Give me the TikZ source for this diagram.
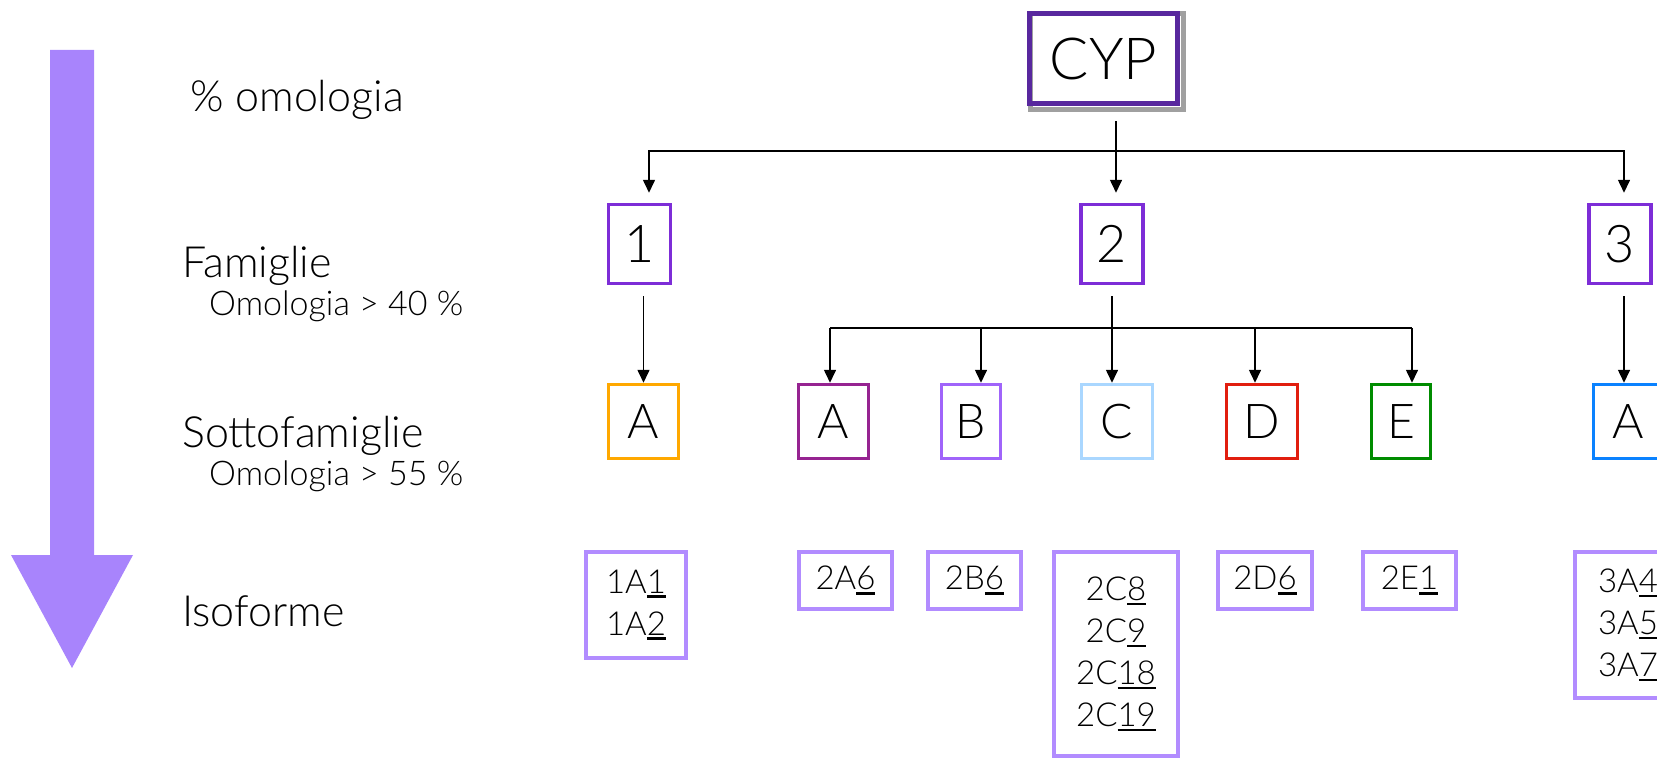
\documentclass[tikz,border=0pt]{standalone}
\usepackage{fontspec}
\setmainfont{Lato Light}
\usetikzlibrary{arrows.meta,calc}

\definecolor{bigarrow}{RGB}{168,132,252}
\definecolor{cypc}{RGB}{88,40,158}
\definecolor{shadowc}{RGB}{160,160,160}
\definecolor{famc}{RGB}{125,45,215}
\definecolor{orangec}{RGB}{255,168,0}
\definecolor{plumc}{RGB}{150,35,145}
\definecolor{violetc}{RGB}{160,100,250}
\definecolor{skyc}{RGB}{170,215,255}
\definecolor{redc}{RGB}{225,30,15}
\definecolor{greenc}{RGB}{0,140,0}
\definecolor{bluec}{RGB}{10,130,255}
\definecolor{isoc}{RGB}{178,140,255}

% underlined isoform number
\newsavebox\digbox
\newcommand\ud[1]{\sbox\digbox{#1}\rlap{\rule[-5pt]{\wd\digbox}{2.8pt}}\usebox\digbox}

\tikzset{
  box/.style={draw, line width=3.5pt, inner sep=0pt, align=center},
  fam/.style={box, draw=famc, minimum width=62pt, minimum height=79pt,
    font=\fontsize{52}{60}\selectfont},
  sub/.style={box, minimum height=74pt, font=\fontsize{48}{56}\selectfont},
  iso/.style={box, draw=isoc, line width=4pt, font=\fontsize{33}{42}\selectfont},
  lab/.style={anchor=base west, inner sep=0pt, font=\fontsize{43}{50}\selectfont},
  small/.style={anchor=base west, inner sep=0pt, font=\fontsize{34}{40}\selectfont},
  conn/.style={line width=1.6pt},
  arr/.style={conn, -{Triangle[length=13pt,width=12pt]}}
}

\begin{document}
\begin{tikzpicture}[x=1pt,y=-1pt]
\useasboundingbox (0,0) rectangle (1657,760);
\clip (0,0) rectangle (1657,760);

% direction of decreasing homology
\fill[bigarrow] (50,50) -- (94,50) -- (94,555) -- (133,555) -- (72,668)
  -- (11,555) -- (50,555) -- cycle;

% level labels
\node[lab] (lhom) at (190,111) {\% omologia};
\node[lab] (lfam) at (182,277) {Famiglie};
\node[small] (lfamh) at (209,315) {Omologia > 40 \%};
\node[lab] (lsub) at (182,447) {Sottofamiglie};
\node[small] (lsubh) at (209,485) {Omologia > 55 \%};
\node[lab] (liso) at (182,626) {Isoforme};

% root
\draw[shadowc, line width=5pt] (1030,14) rectangle (1183,109);
\node[box, draw=cypc, line width=5pt, minimum width=148pt, minimum height=90pt,
  font=\fontsize{58}{66}\selectfont] (cyp) at (1103.5,58.5) {CYP};

% families
\node[fam] (f1) at (639.5,244) {1};
\node[fam] (f2) at (1112,244) {2};
\node[fam] (f3) at (1620,244) {3};

% subfamilies
\node[sub, draw=orangec, minimum width=70pt] (s1a) at (643.5,421.5) {A};
\node[sub, draw=plumc, minimum width=70pt] (s2a) at (833.5,421.5) {A};
\node[sub, draw=violetc, minimum width=59pt] (s2b) at (971,421.5) {B};
\node[sub, draw=skyc, minimum width=71pt] (s2c) at (1117,421.5) {C};
\node[sub, draw=redc, minimum width=71pt] (s2d) at (1262,421.5) {D};
\node[sub, draw=greenc, minimum width=59pt] (s2e) at (1401,421.5) {E};
\node[sub, draw=bluec, minimum width=70pt] (s3a) at (1628.5,421.5) {A};

% isoforms
\node[iso, minimum width=100pt, minimum height=106pt] (i1a) at (636,605)
  {1A\ud{1}\\1A\ud{2}};
\node[iso, minimum width=93pt, minimum height=57pt] (i2a) at (845.5,580.5) {2A\ud{6}};
\node[iso, minimum width=93pt, minimum height=57pt] (i2b) at (974.5,580.5) {2B\ud{6}};
\node[iso, minimum width=124pt, minimum height=204pt] (i2c) at (1116,654)
  {2C\ud{8}\\2C\ud{9}\\2C\ud{18}\\2C\ud{19}};
\node[iso, minimum width=94pt, minimum height=57pt] (i2d) at (1265,580.5) {2D\ud{6}};
\node[iso, minimum width=93pt, minimum height=57pt] (i2e) at (1409.5,580.5) {2E\ud{1}};
\node[iso, minimum width=106pt, minimum height=146pt] (i3a) at (1628,625)
  {3A\ud{4}\\3A\ud{5}\\3A\ud{7}};

% x positions of the drop lines
\coordinate (xa) at (649,0);
\coordinate (xb) at (1116,0);
\coordinate (xc) at (1624,0);
\coordinate (x2a) at (830,0);
\coordinate (x2b) at (981,0);
\coordinate (x2c) at (1112,0);
\coordinate (x2d) at (1255,0);
\coordinate (x2e) at (1412,0);

% CYP -> families
\coordinate (bar1) at (0,151);
\draw[arr, shorten <=15pt, shorten >=10pt] (cyp.south -| xb) -- (f2.north -| xb);
\draw[arr, shorten >=10pt] (bar1 -| xb) -| (f1.north -| xa);
\draw[arr, shorten >=10pt] (bar1 -| xb) -| (f3.north -| xc);

% families -> subfamilies
\coordinate (bar2) at (0,328);
\draw[arr, shorten <=11pt] (f1.south -| s1a) -- (s1a.north);
\draw[arr, shorten <=11pt] (f3.south -| xc) -- (s3a.north -| xc);
\draw[conn, shorten <=11pt] (f2.south -| x2c) -- (bar2 -| x2c);
\draw[conn] (bar2 -| x2a) -- (bar2 -| x2e);
\draw[arr] (bar2 -| x2a) -- (s2a.north -| x2a);
\draw[arr] (bar2 -| x2b) -- (s2b.north -| x2b);
\draw[arr] (bar2 -| x2c) -- (s2c.north -| x2c);
\draw[arr] (bar2 -| x2d) -- (s2d.north -| x2d);
\draw[arr] (bar2 -| x2e) -- (s2e.north -| x2e);
\end{tikzpicture}
\end{document}
